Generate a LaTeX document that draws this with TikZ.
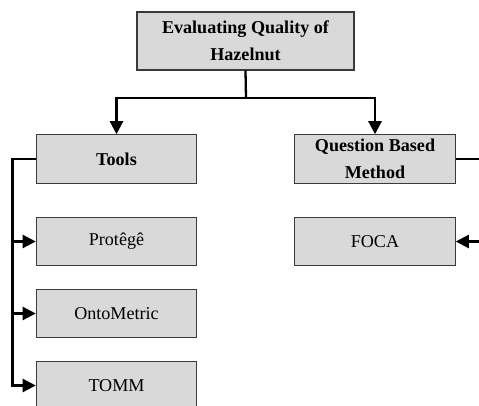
\documentclass[tikz,border=0pt]{standalone}
\usepackage{fontspec}
\setmainfont{Liberation Serif}
\usepackage{tikz}
\usetikzlibrary{positioning,arrows.meta,calc}
\definecolor{HZFill}{HTML}{D9D9D9}
\definecolor{HZEdge}{HTML}{3A3A3A}

\begin{document}
\begin{tikzpicture}[x=0.02cm,y=-0.02cm,>={Triangle[length=0.26cm,width=0.26cm]},
 box/.style={draw=HZEdge,line width=0.6pt,fill=HZFill,minimum width=3.21cm,minimum height=0.97cm,align=center,inner sep=1pt,font=\fontsize{10.3}{15.3}\selectfont},
 head/.style={box,font=\fontsize{10.3}{15.3}\selectfont\bfseries},
 link/.style={line width=1.3pt}]
\useasboundingbox (0,0) rectangle (479,405);
\node[head,minimum width=4.34cm,minimum height=1.16cm] (top) at (245.5,41) {Evaluating Quality of\\Hazelnut};
\node[head] (tools) at (116.5,159) {Tools};
\node[head] (qbm) at (375,159) {Question Based\\Method};
\node[box] (protege) at (116.5,241.5) {Protêgê};
\node[box] (onto) at (116.5,313.5) {OntoMetric};
\node[box] (tomm) at (116.5,385.5) {TOMM};
\node[box] (foca) at (375,241.5) {FOCA};
% branches from the root
\coordinate (split) at (246,98);
\draw[link] (top.south) -- (split);
\draw[link,->] (split) -| (tools.north);
\draw[link,->] (split) -| (qbm.north);
% left bus for the tools
\coordinate (lbus) at (12.5,159);
\draw[link,->] (tools.west) -- (lbus) |- (tomm.west);
\foreach \n in {protege,onto}
  \draw[link,->] (lbus |- \n.west) -- (\n.west);
% right bus, runs off the page
\coordinate (rbus) at (490,159);
\draw[link,->] (qbm.east) -- (rbus) |- (foca.east);
\end{tikzpicture}
\end{document}
